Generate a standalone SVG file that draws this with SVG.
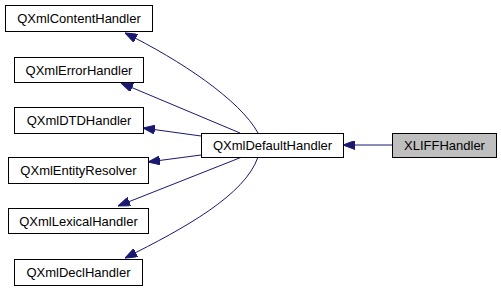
<svg xmlns="http://www.w3.org/2000/svg" width="501" height="291" viewBox="0 0 501 291">
<style>
.n rect{fill:#fff;stroke:#000;stroke-width:1}
.n text{font-family:"Liberation Sans",Arial,sans-serif;font-size:13px;text-anchor:middle;fill:#000}
.e path{fill:none;stroke:#191970;stroke-width:1;marker-end:url(#ah)}
</style>
<defs>
<marker id="ah" markerUnits="userSpaceOnUse" viewBox="0 0 12 9" refX="12" refY="4.5" markerWidth="12" markerHeight="9" orient="auto">
<path d="M0,0 L12,4.5 L0,9 z" fill="#191970" stroke="#191970" stroke-width="1"/>
</marker>
</defs>
<rect width="501" height="291" fill="#fff"/>
<g id="edges" class="e">
<path d="M392,145 L343,145"/>
<path d="M258,133 C240,100 180,60 125,33"/>
<path d="M240,133 L121,83"/>
<path d="M201,136 L143,128"/>
<path d="M201,155 L148,162"/>
<path d="M242,157 L118,206"/>
<path d="M258,157 C245,195 185,228 125,258"/>
</g>
<g id="XLIFFHandler" class="n"><rect x="392.5" y="133.5" width="104" height="24" style="fill:#bfbfbf"/><text x="444.5" y="150">XLIFFHandler</text></g>
<g id="QXmlDefaultHandler" class="n"><rect x="201.5" y="133.5" width="142" height="24"/><text x="272.5" y="150">QXmlDefaultHandler</text></g>
<g id="QXmlContentHandler" class="n"><rect x="5.5" y="5.5" width="147" height="26"/><text x="79" y="23">QXmlContentHandler</text></g>
<g id="QXmlErrorHandler" class="n"><rect x="14.5" y="57.5" width="129" height="25"/><text x="79" y="74.5">QXmlErrorHandler</text></g>
<g id="QXmlDTDHandler" class="n"><rect x="14.5" y="107.5" width="129" height="26"/><text x="79" y="125">QXmlDTDHandler</text></g>
<g id="QXmlEntityResolver" class="n"><rect x="8.5" y="157.5" width="140" height="26"/><text x="78.5" y="175">QXmlEntityResolver</text></g>
<g id="QXmlLexicalHandler" class="n"><rect x="8.5" y="208.5" width="140" height="25"/><text x="78.5" y="225.5">QXmlLexicalHandler</text></g>
<g id="QXmlDeclHandler" class="n"><rect x="14.5" y="259.5" width="128" height="26"/><text x="78.5" y="277">QXmlDeclHandler</text></g>
</svg>
